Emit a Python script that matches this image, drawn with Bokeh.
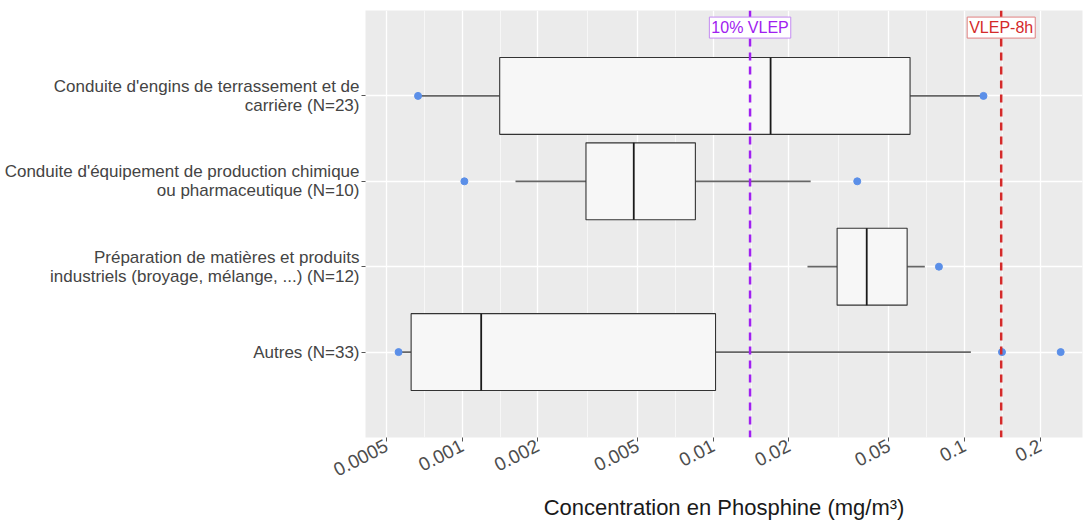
from bokeh.plotting import figure
from bokeh.models import Range1d, FactorRange, FixedTicker, Span, Label
from bokeh.embed import file_html
from bokeh.resources import INLINE
import math

# ---------------- data ----------------
categories = [
    "Conduite d'engins de terrassement et de\ncarrière (N=23)",
    "Conduite d'équipement de production chimique\nou pharmaceutique (N=10)",
    "Préparation de matières et produits\nindustriels (broyage, mélange, ...) (N=12)",
    "Autres (N=33)",
]
whisker_low = [0.000667, 0.00163, 0.0237, 0.000558]
q1 = [0.00141, 0.00311, 0.0311, 0.000626]
median = [0.0169, 0.00482, 0.0408, 0.00119]
q3 = [0.0607, 0.00848, 0.0591, 0.0102]
whisker_high = [0.119, 0.0244, 0.0695, 0.106]

point_cat = [categories[0], categories[0], categories[1], categories[1],
             categories[2], categories[3], categories[3], categories[3]]
point_val = [0.000667, 0.119, 0.00102, 0.0374, 0.0791, 0.000558, 0.141, 0.2415]

x_ticks = [0.0005, 0.001, 0.002, 0.005, 0.01, 0.02, 0.05, 0.1, 0.2]
x_tick_labels = ["0.0005", "0.001", "0.002", "0.005", "0.01", "0.02", "0.05", "0.1", "0.2"]

vlep_8h = 0.14
vlep_10 = 0.014
vlep_labels = ["10% VLEP", "VLEP-8h"]

# ---------------- figure ----------------
FONT = "Liberation Sans"
p = figure(
    width=1089, height=523,
    x_axis_type="log",
    x_range=Range1d(0.000412, 0.295),
    y_range=FactorRange(factors=list(reversed(categories)), range_padding=0.5,
                        range_padding_units="absolute"),
    output_backend="svg", toolbar_location=None,
    min_border_left=365, min_border_right=7, min_border_top=10, min_border_bottom=83,
)
p.background_fill_color = "#EBEBEB"
p.border_fill_color = "white"
p.outline_line_color = None

minor = [math.sqrt(a * b) for a, b in zip(x_ticks[:-1], x_ticks[1:])]
p.xaxis.ticker = FixedTicker(ticks=x_ticks, minor_ticks=minor)
p.xaxis.major_label_overrides = {t: l for t, l in zip(x_ticks, x_tick_labels)}
p.xaxis.major_label_orientation = math.radians(27)
p.xaxis.major_label_text_font = FONT
p.xaxis.major_label_text_font_size = "19px"
p.xaxis.major_label_text_color = "#4d4d4d"
p.xaxis.axis_label = "Concentration en Phosphine (mg/m³)"
p.xaxis.axis_label_text_font = FONT
p.xaxis.axis_label_text_font_size = "22px"
p.xaxis.axis_label_text_font_style = "normal"
p.xaxis.axis_label_text_color = "#1a1a1a"
p.xaxis.axis_label_standoff = 10
p.xaxis.minor_tick_line_color = None

for ax in (p.xaxis, p.yaxis):
    ax.axis_line_color = None
    ax.major_tick_line_color = "#555555"
    ax.major_tick_out = 4
    ax.major_tick_in = 0
    ax.major_label_standoff = 3
p.yaxis.major_label_standoff = 2

p.yaxis.major_label_text_font = FONT
p.yaxis.major_label_text_font_size = "17px"
p.yaxis.major_label_text_color = "#444444"
p.yaxis.major_label_text_line_height = 1.02

p.xgrid.grid_line_color = "white"
p.xgrid.grid_line_width = 1.3
p.xgrid.minor_grid_line_color = "white"
p.xgrid.minor_grid_line_width = 0.6
p.ygrid.grid_line_color = "white"
p.ygrid.grid_line_width = 1.3

# whiskers
p.segment(x0=whisker_low, y0=categories, x1=q1, y1=categories, line_color="#666666", line_width=1.8)
p.segment(x0=q3, y0=categories, x1=whisker_high, y1=categories, line_color="#666666", line_width=1.8)
# boxes
p.hbar(y=categories, left=q1, right=q3, height=0.9, fill_color="#F7F7F7",
       line_color="#333333", line_width=1.1)
# medians
p.hbar(y=categories, left=median, right=median, height=0.9, fill_color=None,
       line_color="#1a1a1a", line_width=1.8)
# points
p.scatter(x=point_val, y=point_cat, size=7, color="#5B8FE8")

# reference lines
for val, col, txt, bcol in [(vlep_10, "#A020F0", vlep_labels[0], "#C48BF2"),
                            (vlep_8h, "#D42A2A", vlep_labels[1], "#E08080")]:
    p.add_layout(Span(location=val, dimension="height", line_color=col,
                      line_width=2.5, line_dash="8 6"))
    p.add_layout(Label(x=val, y=4.3, text=txt, text_align="center", text_baseline="middle",
                       text_font=FONT, text_font_size="16px", text_color=col,
                       background_fill_color="white", border_line_color=bcol,
                       border_line_width=1, padding=2))

open("out.html", "w").write(file_html(p, INLINE))
